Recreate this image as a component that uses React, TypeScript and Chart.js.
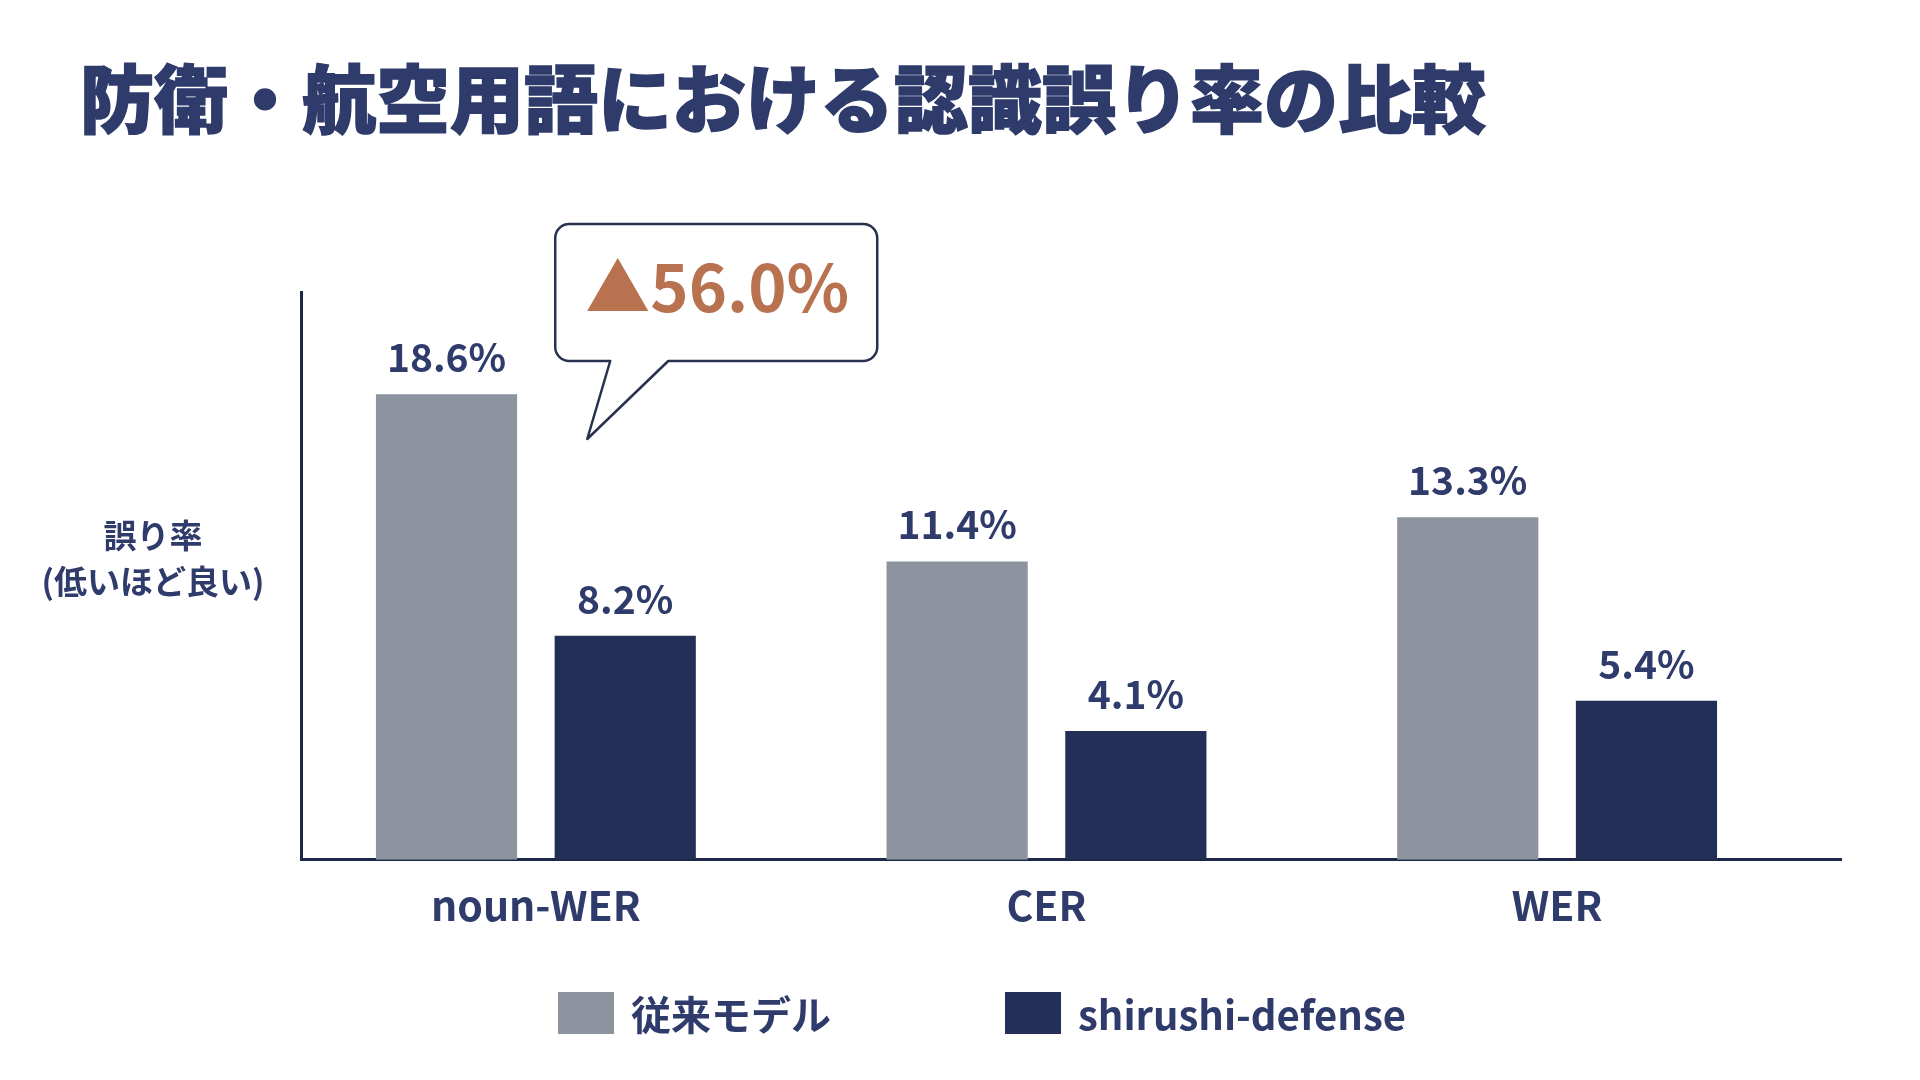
import React, { useEffect, useRef } from 'react';
import { Chart, registerables } from 'chart.js';

Chart.register(...registerables);

// ---- data ----
const TITLE = '防衛・航空用語における認識誤り率の比較';
const Y_LABEL_LINES = ['誤り率', '(低いほど良い)'];
const CATEGORIES = ['noun-WER', 'CER', 'WER'];
const SERIES_NAMES = ['従来モデル', 'shirushi-defense'];
const LEGACY = [18.6, 11.4, 13.3];
const SHIRUSHI = [8.2, 4.1, 5.4];
const CALLOUT_TEXT = '▲56.0%';

// ---- axis ranges ----
const Y_MIN = -1.45;
const Y_MAX = 23;
const X_MIN = -0.46;
const X_MAX = 2.556;

// ---- styles ----
const FONT = "'Noto Sans CJK JP', 'Noto Sans', sans-serif";
const C_LEGACY = '#8e949f';
const C_SHIRUSHI = '#232f57';
const C_TEXT = '#2e3b6b';
const C_AXIS = '#1d2848';
const C_ACCENT = '#b8724f';
const C_CALLOUT = '#283250';
const SERIES_COLORS = [C_LEGACY, C_SHIRUSHI];

const valueLabels = {
  id: 'valueLabels',
  afterDatasetsDraw(chart: any) {
    const { ctx } = chart;
    ctx.save();
    ctx.font = `700 39px ${FONT}`;
    ctx.fillStyle = C_TEXT;
    ctx.textAlign = 'center';
    ctx.textBaseline = 'alphabetic';
    chart.data.datasets.forEach((ds: any, di: number) => {
      const meta = chart.getDatasetMeta(di);
      meta.data.forEach((el: any, i: number) => {
        const v = ds.data[i].y as number;
        ctx.fillText(`${v.toFixed(1)}%`, el.x, el.y - 22);
      });
    });
    ctx.restore();
  },
};

const callout = {
  id: 'callout',
  afterDraw(chart: any) {
    const { ctx, chartArea } = chart;
    const el = chart.getDatasetMeta(1).data[0];
    if (!el) return;
    const cx = el.x;
    const t0 = chartArea.top;
    const left = cx - 70;
    const right = cx + 252;
    const top = t0 - 68;
    const bottom = t0 + 69;
    const r = 14;
    const tailL = cx - 15;
    const tailR = cx + 43;
    const tipX = cx - 38;
    const tipY = t0 + 147;
    ctx.save();
    ctx.beginPath();
    ctx.moveTo(left + r, top);
    ctx.lineTo(right - r, top);
    ctx.arcTo(right, top, right, top + r, r);
    ctx.lineTo(right, bottom - r);
    ctx.arcTo(right, bottom, right - r, bottom, r);
    ctx.lineTo(tailR, bottom);
    ctx.lineTo(tipX, tipY);
    ctx.lineTo(tailL, bottom);
    ctx.lineTo(left + r, bottom);
    ctx.arcTo(left, bottom, left, bottom - r, r);
    ctx.lineTo(left, top + r);
    ctx.arcTo(left, top, left + r, top, r);
    ctx.closePath();
    ctx.fillStyle = '#ffffff';
    ctx.fill();
    ctx.lineWidth = 2.5;
    ctx.lineJoin = 'round';
    ctx.strokeStyle = C_CALLOUT;
    ctx.stroke();
    ctx.font = `700 65px ${FONT}`;
    ctx.fillStyle = C_ACCENT;
    ctx.textAlign = 'center';
    ctx.textBaseline = 'alphabetic';
    ctx.fillText(CALLOUT_TEXT, (left + right) / 2 + 1, top + 88);
    ctx.restore();
  },
};

export default function App() {
  const canvasRef = useRef<HTMLCanvasElement | null>(null);

  useEffect(() => {
    document.body.style.margin = '0';
    const canvas = canvasRef.current;
    if (!canvas) return;
    const chart = new Chart(canvas, {
      type: 'bar',
      data: {
        datasets: [
          {
            label: SERIES_NAMES[0],
            data: CATEGORIES.map((_, i) => ({ x: i, y: LEGACY[i] })),
            backgroundColor: C_LEGACY,
            base: Y_MIN,
            categoryPercentage: 0.7,
            barPercentage: 0.79,
          } as any,
          {
            label: SERIES_NAMES[1],
            data: CATEGORIES.map((_, i) => ({ x: i, y: SHIRUSHI[i] })),
            backgroundColor: C_SHIRUSHI,
            base: Y_MIN,
            categoryPercentage: 0.7,
            barPercentage: 0.79,
          } as any,
        ],
      },
      options: {
        responsive: false,
        animation: false,
        layout: { padding: { left: 301, right: 79, top: 292, bottom: 129 } },
        plugins: {
          legend: { display: false },
          title: { display: false },
          tooltip: { enabled: false },
        },
        scales: {
          x: {
            type: 'linear',
            min: X_MIN,
            max: X_MAX,
            offset: false,
            z: 1,
            grid: { display: false, drawTicks: false, offset: false },
            border: { display: true, color: C_AXIS, width: 3 },
            afterBuildTicks: (scale: any) => {
              scale.ticks = CATEGORIES.map((_, i) => ({ value: i }));
            },
            ticks: {
              autoSkip: false,
              maxRotation: 0,
              padding: 21,
              color: C_TEXT,
              font: { family: FONT, size: 41, weight: '700' },
              callback: (v: any) => CATEGORIES[v as number] ?? '',
            },
          },
          y: {
            type: 'linear',
            min: Y_MIN,
            max: Y_MAX,
            grid: { display: false, drawTicks: false },
            border: { display: true, color: C_AXIS, width: 3 },
            ticks: { display: false },
          },
        },
      } as any,
      plugins: [valueLabels, callout],
    });
    return () => chart.destroy();
  }, []);

  return (
    <div
      style={{
        position: 'relative',
        width: 1920,
        height: 1080,
        overflow: 'hidden',
        background: '#ffffff',
        fontFamily: FONT,
        color: C_TEXT,
      }}
    >
      <canvas
        ref={canvasRef}
        width={1920}
        height={1080}
        style={{ position: 'absolute', left: 0, top: 0, width: 1920, height: 1080 }}
      />
      <h1
        style={{
          position: 'absolute',
          left: 80,
          top: 58,
          margin: 0,
          fontSize: 74,
          lineHeight: '74px',
          fontWeight: 900,
          whiteSpace: 'nowrap',
          color: C_TEXT,
          WebkitTextStroke: `1.5px ${C_TEXT}`,
        }}
      >
        {TITLE}
      </h1>
      <div
        style={{
          position: 'absolute',
          left: 18,
          top: 511,
          width: 270,
          textAlign: 'center',
          fontSize: 33,
          lineHeight: '46px',
          fontWeight: 700,
        }}
      >
        {Y_LABEL_LINES.map((t) => (
          <div key={t}>{t}</div>
        ))}
      </div>
      <div
        style={{
          position: 'absolute',
          left: 558,
          top: 992,
          display: 'flex',
          alignItems: 'center',
          gap: 174,
        }}
      >
        {SERIES_NAMES.map((name, i) => (
          <div key={name} style={{ display: 'flex', alignItems: 'center' }}>
            <div style={{ width: 56, height: 42, background: SERIES_COLORS[i] }} />
            <span
              style={{
                marginLeft: 17,
                fontSize: 40,
                lineHeight: '42px',
                fontWeight: 700,
                whiteSpace: 'nowrap',
              }}
            >
              {name}
            </span>
          </div>
        ))}
      </div>
    </div>
  );
}
